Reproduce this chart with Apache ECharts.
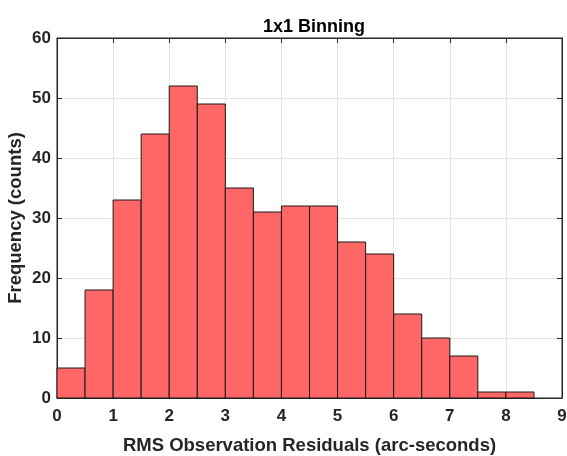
<!DOCTYPE html>
<html>
<head>
<meta charset="utf-8">
<script src="https://cdn.jsdelivr.net/npm/echarts@6/dist/echarts.min.js"></script>
<style>
  html, body { margin: 0; padding: 0; background: #fff; }
  #chart { width: 567px; height: 456px; }
</style>
</head>
<body>
<div id="chart"></div>
<script>
// Histogram bin edges (lower / upper) and counts per bin
const binStart = [0, 0.5, 1, 1.5, 2, 2.5, 3, 3.5, 4, 4.5, 5, 5.5, 6, 6.5, 7, 7.5, 8];
const binEnd   = [0.5, 1, 1.5, 2, 2.5, 3, 3.5, 4, 4.5, 5, 5.5, 6, 6.5, 7, 7.5, 8, 8.5];
const counts   = [5, 18, 33, 44, 52, 49, 35, 31, 32, 32, 26, 24, 14, 10, 7, 1, 1];

const xTicks = [0, 1, 2, 3, 4, 5, 6, 7, 8, 9];
const yTicks = [0, 10, 20, 30, 40, 50, 60];

const titleText = '1x1 Binning';
const xLabel = 'RMS Observation Residuals (arc-seconds)';
const yLabel = 'Frequency (counts)';

const FONT = '"Liberation Sans", Arial, sans-serif';
const AXIS_COLOR = '#262626';

const chart = echarts.init(document.getElementById('chart'));

const bins = binStart.map((s, i) => [s, binEnd[i], counts[i]]);

const tickCommon = { show: true, inside: true, length: 5, lineStyle: { color: AXIS_COLOR, width: 1 } };
const lineCommon = { show: true, onZero: false, lineStyle: { color: AXIS_COLOR, width: 1 } };
const labelCommon = { fontFamily: FONT, fontWeight: 'bold', fontSize: 17, color: AXIS_COLOR };
const nameStyle = { fontFamily: FONT, fontWeight: 'bold', fontSize: 18.5, color: AXIS_COLOR };

chart.setOption({
  animation: false,
  title: {
    text: titleText,
    left: 309, top: 13, textAlign: 'center',
    textStyle: { fontFamily: FONT, fontWeight: 'bold', fontSize: 18, color: '#000' }
  },
  grid: {
    left: 57, right: 5, top: 38, bottom: 58,
    outerBoundsMode: 'none', containLabel: false,
    show: true, borderColor: AXIS_COLOR, borderWidth: 1, backgroundColor: 'transparent'
  },
  xAxis: [{
    type: 'value', min: 0, max: 9, interval: 1,
    name: xLabel, nameLocation: 'middle', nameGap: 38,
    nameTextStyle: nameStyle,
    axisLine: lineCommon,
    axisTick: tickCommon,
    axisLabel: Object.assign({ margin: 10,
      formatter: v => xTicks.includes(v) ? String(v) : '' }, labelCommon),
    splitLine: { show: true, lineStyle: { color: '#e3e3e3', width: 1 } }
  }, {
    type: 'value', min: 0, max: 9, interval: 1, position: 'top',
    axisLine: lineCommon, axisTick: tickCommon,
    axisLabel: { show: false }, splitLine: { show: false }
  }],
  yAxis: [{
    type: 'value', min: 0, max: 60, interval: 10,
    name: yLabel, nameLocation: 'middle', nameGap: 32, nameRotate: 90,
    nameMoveOverlap: false,
    nameTextStyle: nameStyle,
    axisLine: lineCommon,
    axisTick: tickCommon,
    axisLabel: Object.assign({ margin: 6,
      formatter: v => yTicks.includes(v) ? String(v) : '' }, labelCommon),
    splitLine: { show: true, lineStyle: { color: '#e3e3e3', width: 1 } }
  }, {
    type: 'value', min: 0, max: 60, interval: 10, position: 'right',
    axisLine: lineCommon, axisTick: tickCommon,
    axisLabel: { show: false }, splitLine: { show: false }
  }],
  series: [{
    type: 'custom',
    xAxisIndex: 0, yAxisIndex: 0,
    encode: { x: [0, 1], y: 2 },
    data: bins,
    renderItem: function (params, api) {
      const p0 = api.coord([api.value(0), api.value(2)]);
      const p1 = api.coord([api.value(1), 0]);
      return {
        type: 'rect',
        shape: { x: p0[0], y: p0[1], width: p1[0] - p0[0], height: p1[1] - p0[1] },
        style: { fill: '#ff6666', stroke: '#1a1a1a', lineWidth: 1 }
      };
    }
  }]
});
</script>
</body>
</html>
